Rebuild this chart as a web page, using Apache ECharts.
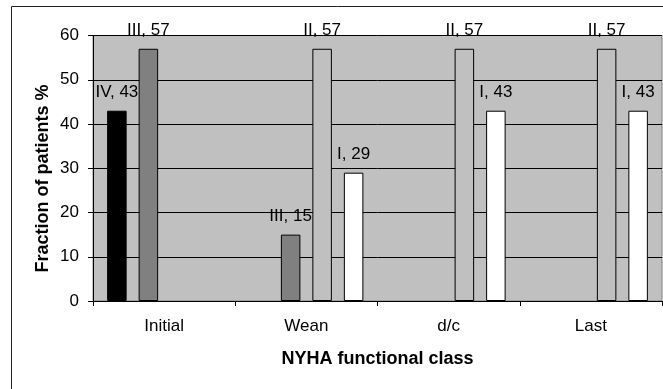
<!DOCTYPE html>
<html>
<head>
<meta charset="utf-8">
<script src="https://cdn.jsdelivr.net/npm/echarts@6/dist/echarts.min.js"></script>
<style>
html,body{margin:0;padding:0;background:#fff;}
#chart{width:663px;height:389px;}
</style>
</head>
<body>
<div id="chart"></div>
<script>
var categories = ['Initial', 'Wean', 'd/c', 'Last'];
var seriesNames = ['IV', 'III', 'II', 'I'];
var classIV = [43, null, null, null];
var classIII = [57, 15, null, null];
var classII = [null, 57, 57, 57];
var classI = [null, 29, 43, 43];
var yTicks = [0, 10, 20, 30, 40, 50, 60];

var colors = ['#000000', '#808080', '#c0c0c0', '#ffffff'];
var values = [classIV, classIII, classII, classI];
var FONT = "'Liberation Sans', Arial, sans-serif";

var chart = echarts.init(document.getElementById('chart'));
var series = seriesNames.map(function (n, i) {
  return {
    name: n,
    type: 'bar',
    data: values[i],
    barWidth: 19.5,
    barGap: '61.5%',
    itemStyle: { color: colors[i], borderColor: '#000', borderWidth: 1 },
    label: {
      show: true,
      position: 'top',
      distance: 10,
      formatter: '{a}, {c}',
      color: '#000',
      fontFamily: FONT,
      fontSize: 17,
      lineHeight: 17
    },
    animation: false
  };
});

chart.setOption({
  animation: false,
  grid: {
    left: 93, right: 1, top: 35.5, bottom: 88,
    show: true, backgroundColor: '#c0c0c0', borderColor: '#808080', borderWidth: 1
  },
  graphic: [
    { type: 'rect', shape: { x: 11.5, y: 6.5, width: 700, height: 500 },
      style: { fill: 'none', stroke: '#222', lineWidth: 1 }, z: -10 },
    { type: 'text', x: 43, y: 178.5, rotation: Math.PI / 2,
      style: { text: 'Fraction of patients %', fontFamily: FONT, fontSize: 18, fontWeight: 'bold',
               fill: '#000', textAlign: 'center', textVerticalAlign: 'middle' } }
  ],
  xAxis: {
    type: 'category',
    data: categories,
    name: 'NYHA functional class',
    nameLocation: 'middle',
    nameGap: 49,
    nameTextStyle: { fontFamily: FONT, fontSize: 18, fontWeight: 'bold', color: '#000' },
    axisLine: { lineStyle: { color: '#000', width: 1 } },
    axisTick: { show: true, length: 5, lineStyle: { color: '#000' } },
    axisLabel: { margin: 17, fontFamily: FONT, fontSize: 17, color: '#000' }
  },
  yAxis: {
    type: 'value',
    min: 0, max: 60, interval: 10,
    axisLine: { show: true, lineStyle: { color: '#000', width: 1 } },
    axisTick: { show: true, length: 5, lineStyle: { color: '#000' } },
    axisLabel: { margin: 14, fontFamily: FONT, fontSize: 17, color: '#000',
      formatter: function (v) { return yTicks.indexOf(v) >= 0 ? String(v) : ''; } },
    splitLine: { show: true, lineStyle: { color: '#000', width: 1 } }
  },
  series: series
});
</script>
</body>
</html>
